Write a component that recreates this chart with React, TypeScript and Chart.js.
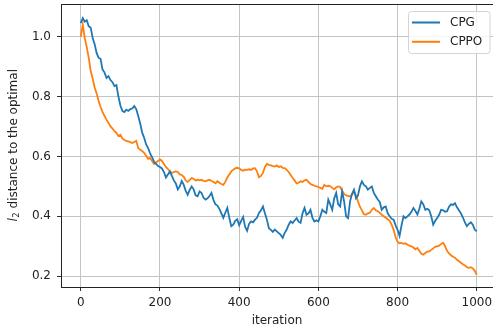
import React, { useEffect, useRef } from "react";
import { Chart, registerables } from "chart.js";

Chart.register(...registerables);

const iterations: number[] = [];
for (let i = 0; i <= 1000; i += 5) iterations.push(i);

const cpg: number[] = [
  1.045, 1.062, 1.050, 1.055, 1.035, 1.030, 0.995, 0.975, 0.945, 0.930,
  0.925, 0.890, 0.880, 0.862, 0.868, 0.855, 0.848, 0.835, 0.838, 0.800,
  0.770, 0.752, 0.748, 0.756, 0.752, 0.758, 0.760, 0.768, 0.758, 0.735,
  0.710, 0.680, 0.662, 0.640, 0.628, 0.610, 0.598, 0.582, 0.575, 0.568,
  0.565, 0.560, 0.548, 0.530, 0.540, 0.550, 0.535, 0.520, 0.510, 0.490,
  0.500, 0.518, 0.505, 0.485, 0.472, 0.488, 0.500, 0.490, 0.470, 0.467,
  0.483, 0.478, 0.462, 0.456, 0.460, 0.468, 0.478, 0.455, 0.440, 0.436,
  0.425, 0.410, 0.395, 0.412, 0.428, 0.395, 0.367, 0.372, 0.385, 0.390,
  0.370, 0.385, 0.398, 0.365, 0.352, 0.375, 0.383, 0.380, 0.389, 0.395,
  0.411, 0.420, 0.433, 0.410, 0.389, 0.360, 0.355, 0.348, 0.356, 0.350,
  0.344, 0.338, 0.328, 0.345, 0.356, 0.372, 0.383, 0.378, 0.386, 0.394,
  0.382, 0.378, 0.410, 0.428, 0.405, 0.410, 0.422, 0.395, 0.383, 0.387,
  0.383, 0.400, 0.422, 0.415, 0.411, 0.456, 0.440, 0.422, 0.460, 0.478,
  0.440, 0.433, 0.483, 0.450, 0.400, 0.394, 0.450, 0.475, 0.489, 0.460,
  0.470, 0.500, 0.517, 0.505, 0.500, 0.489, 0.495, 0.500, 0.478, 0.467,
  0.456, 0.448, 0.422, 0.430, 0.433, 0.410, 0.400, 0.392, 0.389, 0.370,
  0.355, 0.335, 0.370, 0.400, 0.394, 0.400, 0.406, 0.415, 0.428, 0.418,
  0.406, 0.425, 0.450, 0.440, 0.422, 0.425, 0.420, 0.400, 0.372, 0.385,
  0.394, 0.405, 0.422, 0.420, 0.415, 0.417, 0.432, 0.440, 0.438, 0.444,
  0.430, 0.420, 0.410, 0.396, 0.380, 0.367, 0.375, 0.380, 0.372, 0.355,
  0.350,
];

const cppo: number[] = [
  1.000, 1.040, 0.995, 0.965, 0.930, 0.885, 0.860, 0.830, 0.810, 0.785,
  0.765, 0.748, 0.735, 0.722, 0.712, 0.700, 0.693, 0.685, 0.678, 0.668,
  0.672, 0.660, 0.655, 0.652, 0.650, 0.648, 0.645, 0.648, 0.652, 0.628,
  0.622, 0.618, 0.612, 0.602, 0.592, 0.595, 0.585, 0.575, 0.580, 0.585,
  0.590, 0.585, 0.575, 0.565, 0.558, 0.550, 0.545, 0.548, 0.550, 0.548,
  0.540, 0.538, 0.532, 0.520, 0.515, 0.522, 0.528, 0.525, 0.520, 0.522,
  0.520, 0.522, 0.518, 0.517, 0.520, 0.522, 0.518, 0.515, 0.510, 0.517,
  0.512, 0.508, 0.505, 0.515, 0.530, 0.540, 0.550, 0.556, 0.560, 0.562,
  0.560, 0.555, 0.552, 0.556, 0.555, 0.557, 0.555, 0.560, 0.561, 0.550,
  0.530, 0.535, 0.545, 0.565, 0.575, 0.572, 0.570, 0.568, 0.566, 0.570,
  0.565, 0.567, 0.562, 0.561, 0.555, 0.548, 0.538, 0.528, 0.520, 0.510,
  0.512, 0.517, 0.515, 0.520, 0.522, 0.515, 0.508, 0.505, 0.502, 0.500,
  0.498, 0.495, 0.492, 0.505, 0.500, 0.502, 0.500, 0.495, 0.490, 0.497,
  0.500, 0.498, 0.485, 0.475, 0.470, 0.468, 0.466, 0.472, 0.482, 0.470,
  0.450, 0.432, 0.420, 0.407, 0.405, 0.410, 0.412, 0.422, 0.428, 0.420,
  0.417, 0.412, 0.405, 0.400, 0.395, 0.390, 0.385, 0.372, 0.355, 0.330,
  0.315, 0.310, 0.311, 0.308, 0.310, 0.305, 0.302, 0.300, 0.296, 0.290,
  0.294, 0.285, 0.275, 0.272, 0.278, 0.282, 0.283, 0.288, 0.293, 0.298,
  0.300, 0.302, 0.308, 0.312, 0.300, 0.285, 0.276, 0.270, 0.265, 0.262,
  0.255, 0.250, 0.245, 0.240, 0.236, 0.230, 0.228, 0.230, 0.226, 0.218,
  0.205,
];

const xTicks = [0, 200, 400, 600, 800, 1000];
const yTicks = [0.2, 0.4, 0.6, 0.8, 1.0];
const seriesNames = ["CPG", "CPPO"];
const seriesColors = ["#1f77b4", "#ff7f0e"];
const xLabel = "iteration";
const yLabelItalic = "l";
const yLabelSub = "2";
const yLabelRest = " distance to the optimal";

const FONT = "'DejaVu Sans', sans-serif";

const framePlugin = {
  id: "frame",
  afterDraw(chart: any) {
    const { ctx, chartArea } = chart;
    ctx.save();
    ctx.strokeStyle = "#222";
    ctx.lineWidth = 1;
    ctx.beginPath();
    ctx.moveTo(chartArea.left, chartArea.top + 0.5);
    ctx.lineTo(chartArea.right, chartArea.top + 0.5);
    ctx.stroke();

    const cy = (chartArea.top + chartArea.bottom) / 2;
    ctx.translate(14, cy);
    ctx.rotate(-Math.PI / 2);
    ctx.fillStyle = "#222";
    ctx.textBaseline = "middle";
    ctx.font = `italic 12px ${FONT}`;
    const w1 = ctx.measureText(yLabelItalic).width;
    ctx.font = `8.5px ${FONT}`;
    const w2 = ctx.measureText(yLabelSub).width;
    ctx.font = `12px ${FONT}`;
    const w3 = ctx.measureText(yLabelRest).width;
    let x = -(w1 + w2 + w3) / 2;
    ctx.font = `italic 12px ${FONT}`;
    ctx.fillText(yLabelItalic, x, 0);
    x += w1 + 0.5;
    ctx.font = `8.5px ${FONT}`;
    ctx.fillText(yLabelSub, x, 3);
    x += w2;
    ctx.font = `12px ${FONT}`;
    ctx.fillText(yLabelRest, x, 0);
    ctx.restore();

    ctx.save();
    const bx = 408.5, by = 11.5, bw = 81.5, bh = 42;
    ctx.beginPath();
    const r = 3;
    ctx.moveTo(bx + r, by);
    ctx.lineTo(bx + bw - r, by);
    ctx.arcTo(bx + bw, by, bx + bw, by + r, r);
    ctx.lineTo(bx + bw, by + bh - r);
    ctx.arcTo(bx + bw, by + bh, bx + bw - r, by + bh, r);
    ctx.lineTo(bx + r, by + bh);
    ctx.arcTo(bx, by + bh, bx, by + bh - r, r);
    ctx.lineTo(bx, by + r);
    ctx.arcTo(bx, by, bx + r, by, r);
    ctx.closePath();
    ctx.fillStyle = "rgba(255,255,255,0.8)";
    ctx.fill();
    ctx.strokeStyle = "#d4d4d4";
    ctx.lineWidth = 1;
    ctx.stroke();
    ctx.font = `12px ${FONT}`;
    ctx.textBaseline = "middle";
    seriesNames.forEach((name, i) => {
      const ly = 22.5 + i * 19.3;
      ctx.strokeStyle = seriesColors[i];
      ctx.lineWidth = 2;
      ctx.beginPath();
      ctx.moveTo(412, ly);
      ctx.lineTo(440, ly);
      ctx.stroke();
      ctx.fillStyle = "#222";
      ctx.fillText(name, 450, ly + 0.5);
    });
    ctx.restore();
  },
};

export default function App() {
  const ref = useRef<HTMLCanvasElement | null>(null);
  useEffect(() => {
    if (!ref.current) return;
    const chart = new Chart(ref.current, {
      type: "line",
      data: {
        datasets: seriesNames.map((name, i) => ({
          label: name,
          data: iterations.map((it, k) => ({ x: it, y: i === 0 ? cpg[k] : cppo[k] })),
          borderColor: seriesColors[i],
          backgroundColor: seriesColors[i],
          borderWidth: 1.8,
          pointRadius: 0,
          tension: 0,
          fill: false,
        })),
      },
      options: {
        responsive: false,
        animation: false,
        layout: { padding: { top: 4, right: 0, left: 0, bottom: 0 } },
        plugins: {
          legend: { display: false },
          tooltip: { enabled: false },
        },
        scales: {
          x: {
            type: "linear",
            min: -50,
            max: 1041,
            afterBuildTicks: (scale: any) => {
              scale.ticks = xTicks.map((v) => ({ value: v }));
            },
            afterFit: (scale: any) => {
              scale.height = 41;
              scale.paddingLeft = 0;
              scale.paddingRight = 0;
            },
            ticks: {
              color: "#222",
              font: { family: FONT, size: 12 },
              padding: 5,
              maxRotation: 0,
              autoSkip: false,
              callback: (v: any) => String(v),
            },
            grid: {
              color: "#c4c4c4",
              lineWidth: 1,
              tickColor: "#333",
              tickLength: 4,
              drawTicks: true,
            },
            border: { display: true, color: "#222", width: 1 },
            title: {
              display: true,
              text: xLabel,
              color: "#222",
              font: { family: FONT, size: 12 },
              padding: { top: 0, bottom: 0 },
            },
          },
          y: {
            type: "linear",
            min: 0.164,
            max: 1.109,
            afterBuildTicks: (scale: any) => {
              scale.ticks = yTicks.map((v) => ({ value: v }));
            },
            afterFit: (scale: any) => {
              scale.width = 61;
              scale.paddingTop = 0;
              scale.paddingBottom = 0;
            },
            ticks: {
              color: "#222",
              font: { family: FONT, size: 12 },
              padding: 6,
              autoSkip: false,
              callback: (v: any) => Number(v).toFixed(1),
            },
            grid: {
              color: "#c4c4c4",
              lineWidth: 1,
              tickColor: "#333",
              tickLength: 4,
              drawTicks: true,
            },
            border: { display: true, color: "#222", width: 1 },
          },
        },
      },
      plugins: [framePlugin],
    });
    return () => chart.destroy();
  }, []);
  return (
    <div style={{ position: "fixed", left: 0, top: 0, width: 493, height: 328, background: "#fff" }}>
      <canvas ref={ref} width={493} height={328} style={{ display: "block" }} />
    </div>
  );
}
